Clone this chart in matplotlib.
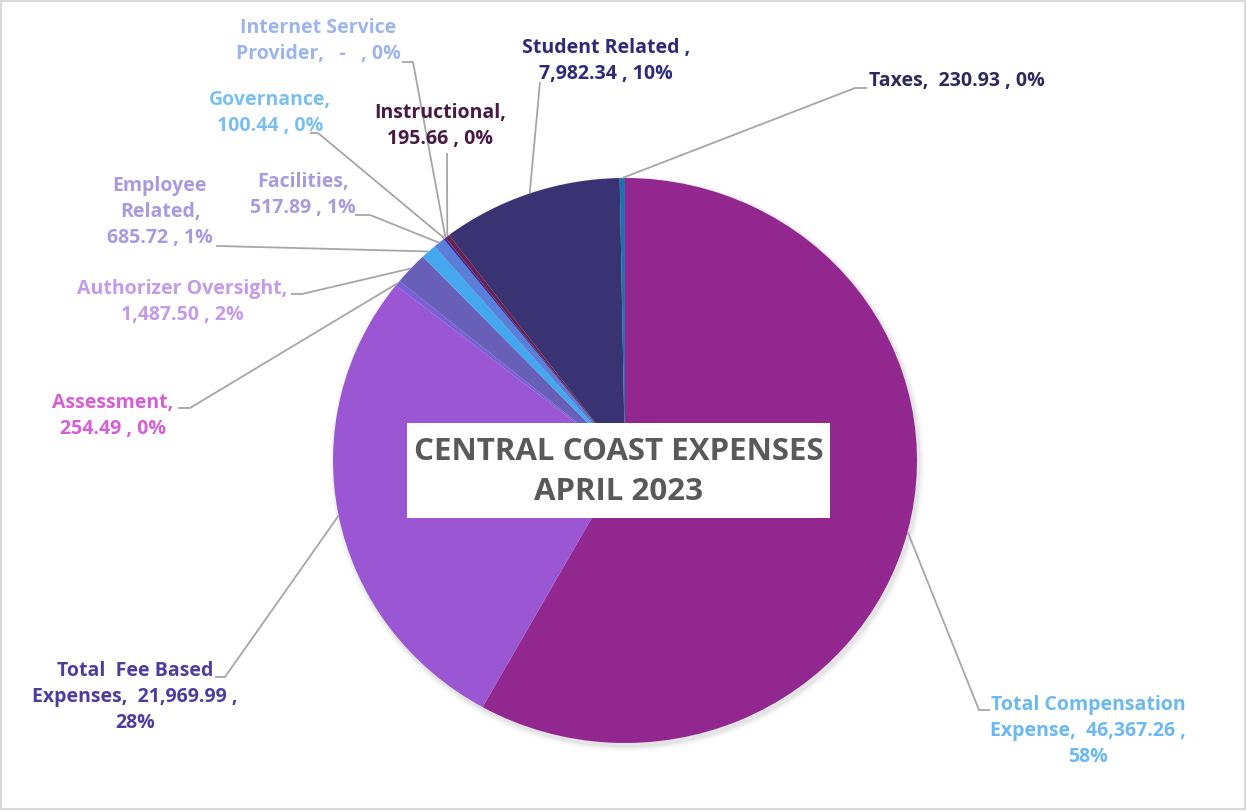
import matplotlib
matplotlib.use("Agg")
import matplotlib.pyplot as plt
from matplotlib.patches import Rectangle, Ellipse
import numpy as np

# ---------------- data ----------------
categories = ["Total Compensation Expense", "Total Fee Based Expenses", "Assessment",
              "Authorizer Oversight", "Employee Related", "Facilities", "Governance",
              "Internet Service Provider", "Instructional", "Student Related", "Taxes"]
values = [46367.26, 21969.99, 254.49, 1487.50, 685.72, 517.89, 100.44, 0.0, 195.66, 7982.34, 230.93]
title_lines = ["CENTRAL COAST EXPENSES", "APRIL 2023"]

# label templates ({v}=value, {p}=percent)
label_fmt = [
    "Total Compensation\nExpense,  {v} ,\n{p}",
    "Total  Fee Based\nExpenses,  {v} ,\n{p}",
    "Assessment,\n{v} , {p}",
    "Authorizer Oversight,\n{v} , {p}",
    "Employee\nRelated,\n{v} , {p}",
    "Facilities,\n{v} , {p}",
    "Governance,\n{v} , {p}",
    "Internet Service\nProvider,  {v} , {p}",
    "Instructional,\n{v} , {p}",
    "Student Related ,\n{v} , {p}",
    "Taxes,  {v} , {p}",
]

# ---------------- style ----------------
slice_colors = ["#92278F", "#9B57D3", "#7A5FD8", "#6860B8", "#45A8EE", "#5A7FD9",
                "#3A2BA0", "#5A7FD9", "#6B1F4F", "#3A3373", "#1F72B0"]
label_colors = ["#6CB8F0", "#4B3E9E", "#D65FD6", "#C49BE8", "#A79BE0", "#A79BE0",
                "#79C0F0", "#9DB5EA", "#4A1942", "#2E2A7A", "#2C2A5E"]
# (text x, text y, ha, elbow x, elbow y, end x, end y) in figure pixels (y down)
label_layout = [
    (1088, 731, "center", 979, 710, 990, 710),
    (135, 697, "center", 225, 677, 215, 677),
    (113, 416, "center", 190, 408, 178, 408),
    (182, 302, "center", 302, 294, 291, 294),
    (160, 212, "center", 218, 246, 216, 246),
    (303, 195, "center", 370, 215, 355, 215),
    (270, 113, "center", 318, 133, 310, 133),
    (318, 41, "center", 413, 62, 402, 62),
    (440, 126, "center", 447, 153, 447, 153),
    (606, 61, "center", 540, 82, 540, 82),
    (869, 81, "left", 855, 88, 867, 88),
]

plt.rcParams['font.family'] = ['Open Sans', 'DejaVu Sans']

W, H = 1247, 811
fig = plt.figure(figsize=(W / 100, H / 100), dpi=100)
fig.patch.set_facecolor("white")

def pixel_axes(z):
    a = fig.add_axes([0, 0, 1, 1], zorder=z)
    a.set_xlim(0, W)
    a.set_ylim(H, 0)
    a.axis("off")
    a.patch.set_alpha(0)
    return a

under = pixel_axes(0)
under.add_patch(Rectangle((1, 1), W - 3, H - 3, fill=False, edgecolor="#D9D9D9", linewidth=1.5))

# pie bounding box in pixels
pl, pr, pt, pb = 333, 917, 178, 743
cx, cy = (pl + pr) / 2, (pt + pb) / 2
for i, a in enumerate([0.05, 0.035, 0.02]):
    under.add_patch(Ellipse((cx + 2, cy + 3), (pr - pl) + 3 + 4 * i, (pb - pt) + 3 + 4 * i,
                            facecolor="#000000", alpha=a, edgecolor="none"))

axp = fig.add_axes([pl / W, 1 - pb / H, (pr - pl) / W, (pb - pt) / H], zorder=1)
total = sum(values)
wedges, _ = axp.pie(values, colors=slice_colors, startangle=90, counterclock=False,
                    radius=1.0, wedgeprops=dict(linewidth=0))
axp.set_aspect("auto")
axp.set_xlim(-1, 1)
axp.set_ylim(-1, 1)
axp.axis("off")

top = pixel_axes(2)
inv = top.transData.inverted()
cum = 0.0
for i, (name, v) in enumerate(zip(categories, values)):
    frac = v / total
    mid = cum + frac / 2
    cum += frac
    ang = np.deg2rad(90 - mid * 360)
    disp = axp.transData.transform((np.cos(ang), np.sin(ang)))
    sx, sy = inv.transform(disp)
    tx, ty, ha, ex, ey, qx, qy = label_layout[i]
    top.plot([sx, ex, qx], [sy, ey, qy], color="#A6A6A6", linewidth=1.3,
             solid_capstyle="butt", zorder=3)
    vs = f"{v:,.2f}" if v != 0 else " -  "
    ps = f"{round(frac * 100):d}%"
    txt = label_fmt[i].format(v=vs, p=ps)
    top.text(tx, ty, txt, ha=ha, va="center", multialignment="center",
             color=label_colors[i], fontsize=14, fontweight="bold",
             linespacing=1.42, zorder=4)

# title box
top.add_patch(Rectangle((407, 423), 423, 95, facecolor="white", edgecolor="none", zorder=5))
top.text(619, 452, title_lines[0], ha="center", va="center", fontsize=22.5, fontweight="bold",
         color="#595959", zorder=6)
top.text(619, 492, title_lines[1], ha="center", va="center", fontsize=22.5, fontweight="bold",
         color="#595959", zorder=6)

fig.savefig("out.png", dpi=100, facecolor="white")
